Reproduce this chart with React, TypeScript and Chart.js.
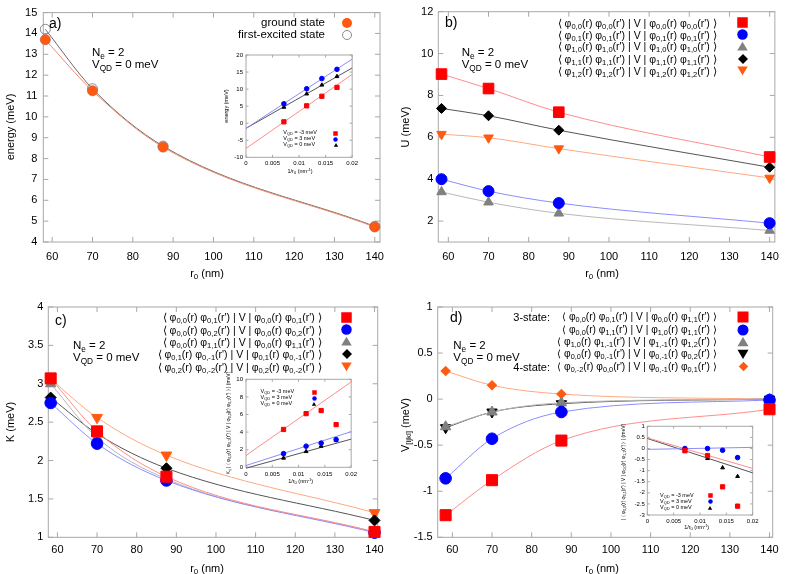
import React, { useEffect, useRef } from 'react';
import { Chart, registerables } from 'chart.js';
Chart.register(...registerables);

const FONT = '"Liberation Sans", Arial, Helvetica, sans-serif';

// ---------- data ----------
const R0 = [58.3, 70, 87.5, 140];
const INV_R0 = [0.00714, 0.01143, 0.01429, 0.01714];
const FIT_X = [0, 0.02];

const A_GROUND = [13.7, 11.25, 8.55, 4.72];
const A_EXCITED = [14.2, 11.35, 8.6, 4.75];
const A_INSET_M3 = [0.4, 5.1, 7.9, 10.5];
const A_INSET_P3 = [5.7, 10.1, 13.1, 15.8];
const A_INSET_0 = [4.7, 8.6, 11.2, 13.7];
const A_FIT_M3 = [-7.4, 14.3];
const A_FIT_P3 = [-1.5, 18.8];
const A_FIT_0 = [-1.5, 16.2];

const B_U00 = [9.02, 8.33, 7.2, 5.06];
const B_U01 = [4.0, 3.43, 2.86, 1.9];
const B_U10 = [3.39, 2.9, 2.37, 1.55];
const B_U11 = [7.38, 7.03, 6.34, 4.57];
const B_U12 = [6.15, 5.98, 5.46, 4.06];

const C_K1 = [3.07, 2.38, 1.79, 1.07];
const C_K2 = [2.75, 2.22, 1.74, 1.06];
const C_K3 = [3.0, 2.3, 1.76, 1.07];
const C_K4 = [2.82, 2.35, 1.9, 1.22];
const C_K5 = [3.06, 2.56, 2.07, 1.32];
const C_INSET_M3 = [4.3, 6.1, 6.45, 4.85];
const C_INSET_P3 = [1.55, 2.4, 2.75, 3.15];
const C_INSET_0 = [1.05, 1.8, 2.4, 3.05];
const C_FIT_M3 = [1.35, 9.7];
const C_FIT_P3 = [0.2, 4.05];
const C_FIT_0 = [-0.1, 3.2];

const D_V1 = [-1.26, -0.88, -0.45, -0.11];
const D_V2 = [-0.86, -0.43, -0.14, -0.01];
const D_V3 = [-0.3, -0.14, -0.04, 0.0];
const D_V4 = [-0.31, -0.14, -0.05, 0.0];
const D_V5 = [0.305, 0.15, 0.055, 0.0];
const D_INSET_M3 = [-0.1, -0.32, -1.73, -2.6];
const D_INSET_P3 = [0.0, 0.0, -0.08, -0.41];
const D_INSET_0 = [-0.12, -0.45, -0.87, -1.26];
const D_FIT_M3 = [0.48, -0.9];
const D_FIT_P3 = [-0.04, 0.05];
const D_FIT_0 = [0.45, -1.1];

const B_LEGEND = [
  ['0,0', '0,0', '0,0', '0,0'],
  ['0,1', '0,1', '0,1', '0,1'],
  ['1,0', '1,0', '1,0', '1,0'],
  ['1,1', '1,1', '1,1', '1,1'],
  ['1,2', '1,2', '1,2', '1,2'],
];
const C_LEGEND = [
  ['0,0', '0,1', '0,0', '0,1'],
  ['0,0', '0,2', '0,0', '0,2'],
  ['0,0', '1,1', '0,0', '1,1'],
  ['0,1', '0,-1', '0,1', '0,-1'],
  ['0,2', '0,-2', '0,2', '0,-2'],
];
const D_LEGEND = [
  ['0,0', '0,1', '0,0', '1,1'],
  ['0,0', '1,1', '1,0', '1,1'],
  ['1,0', '1,-1', '1,-1', '1,2'],
  ['0,0', '0,-1', '0,-1', '0,2'],
  ['0,-2', '0,0', '0,-1', '0,1'],
];
const D_PREFIX = ['3-state:', '', '', '', '4-state:'];
const VQD_LABELS = ['-3', '3', '0'];

// ---------- colours ----------
const RED = '#ff0000';
const BLUE = '#0000ff';
const GRAY = '#808080';
const BLACK = '#000000';
const ORANGE = '#ff5a10';
const L_RED = '#ff8c8c';
const L_BLUE = '#8c8cff';
const L_GRAY = '#b8b8b8';
const L_BLACK = '#555555';
const L_ORANGE = '#ffa880';

// ---------- plugin: frame + inward ticks ----------
const framePlugin = {
  id: 'frame',
  beforeDatasetsDraw(chart: any, _a: any, opts: any) {
    const { ctx, chartArea: ca, scales } = chart;
    ctx.save();
    if (opts.fill) {
      ctx.fillStyle = opts.fill;
      ctx.fillRect(ca.left, ca.top, ca.right - ca.left, ca.bottom - ca.top);
    }
    ctx.strokeStyle = opts.color || '#999';
    ctx.lineWidth = 1;
    ctx.strokeRect(ca.left, ca.top, ca.right - ca.left, ca.bottom - ca.top);
    const L = opts.len || 5;
    ctx.beginPath();
    for (const t of scales.x.ticks) {
      const p = scales.x.getPixelForValue(t.value);
      ctx.moveTo(p, ca.bottom);
      ctx.lineTo(p, ca.bottom - L);
      ctx.moveTo(p, ca.top);
      ctx.lineTo(p, ca.top + L);
    }
    for (const t of scales.y.ticks) {
      const p = scales.y.getPixelForValue(t.value);
      ctx.moveTo(ca.left, p);
      ctx.lineTo(ca.left + L, p);
      ctx.moveTo(ca.right, p);
      ctx.lineTo(ca.right - L, p);
    }
    ctx.stroke();
    ctx.restore();
  },
};

const fmt = (v: any) => String(Math.round(Number(v) * 1e6) / 1e6);

function series(xs: number[], ys: number[], o: any) {
  return {
    data: xs.map((x, i) => ({ x, y: ys[i] })),
    showLine: o.line !== false,
    borderColor: o.lineColor || 'transparent',
    borderWidth: o.lw || 1,
    pointStyle: o.shape || 'circle',
    pointRadius: o.r || 0,
    pointHoverRadius: o.r || 0,
    pointRotation: o.rot || 0,
    pointBackgroundColor: o.fill || 'transparent',
    pointBorderColor: o.stroke || o.fill || 'transparent',
    pointBorderWidth: o.bw ?? 1,
    cubicInterpolationMode: 'monotone',
    clip: false,
  };
}

function makeConfig(s: any) {
  return {
    type: 'line',
    data: { datasets: s.datasets },
    options: {
      responsive: false,
      animation: false,
      maintainAspectRatio: false,
      events: [],
      layout: { padding: { top: s.area.t, right: s.w - s.area.r, left: 0, bottom: 0 } },
      plugins: {
        legend: { display: false },
        tooltip: { enabled: false },
        frame: { color: s.frameColor || '#a8a8a8', len: s.tickLen, fill: s.fill },
      },
      scales: {
        x: {
          type: 'linear',
          min: s.x.min,
          max: s.x.max,
          grid: { display: false, drawTicks: false },
          border: { display: false },
          ticks: {
            stepSize: s.x.step,
            includeBounds: false,
            autoSkip: false,
            maxRotation: 0,
            color: '#000',
            padding: s.x.pad,
            font: { family: FONT, size: s.font },
            callback: fmt,
          },
          afterFit: (sc: any) => {
            sc.height = s.h - s.area.b;
          },
        },
        y: {
          type: 'linear',
          min: s.y.min,
          max: s.y.max,
          grid: { display: false, drawTicks: false },
          border: { display: false },
          ticks: {
            stepSize: s.y.step,
            includeBounds: false,
            autoSkip: false,
            color: '#000',
            padding: s.y.pad,
            font: { family: FONT, size: s.font },
            callback: fmt,
          },
          afterFit: (sc: any) => {
            sc.width = s.area.l;
          },
        },
      },
    },
    plugins: [framePlugin],
  };
}

// ---------- chart specs ----------
const SPECS: any[] = [
  {
    // a
    left: 0, top: 0, w: 395, h: 290,
    area: { l: 43.3, t: 11.7, r: 380, b: 242 },
    x: { min: 57.8, max: 141.3, step: 10, pad: 8 },
    y: { min: 4, max: 15, step: 1, pad: 6 },
    font: 11, tickLen: 5,
    datasets: [
      series(R0, A_GROUND, { lineColor: '#f08a68', shape: 'circle', r: 5, fill: ORANGE, stroke: '#c86040', bw: 0.8 }),
      series(R0, A_EXCITED, { lineColor: '#6a6a6a', shape: 'circle', r: 5, fill: 'rgba(255,255,255,0)', stroke: '#8a8a8a', bw: 1 }),
    ],
  },
  {
    // b
    left: 395, top: 0, w: 392, h: 290,
    area: { l: 43.3, t: 11.7, r: 380, b: 242 },
    x: { min: 57.5, max: 141.3, step: 10, pad: 8 },
    y: { min: 1, max: 12, step: 2, pad: 5 },
    font: 11, tickLen: 5,
    datasets: [
      series(R0, B_U00, { lineColor: L_RED, shape: 'rect', r: 7.5, fill: RED }),
      series(R0, B_U01, { lineColor: L_BLUE, shape: 'circle', r: 5.5, fill: BLUE }),
      series(R0, B_U10, { lineColor: L_GRAY, shape: 'triangle', r: 5.5, fill: GRAY }),
      series(R0, B_U11, { lineColor: L_BLACK, shape: 'rectRot', r: 5, fill: BLACK }),
      series(R0, B_U12, { lineColor: L_ORANGE, shape: 'triangle', rot: 180, r: 5.5, fill: ORANGE }),
    ],
  },
  {
    // c
    left: 0, top: 287, w: 395, h: 287,
    area: { l: 48.3, t: 20, r: 377.7, b: 250.3 },
    x: { min: 57.7, max: 140.8, step: 10, pad: 6 },
    y: { min: 1, max: 4, step: 0.5, pad: 5 },
    font: 11, tickLen: 5,
    datasets: [
      series(R0, C_K1, { lineColor: L_RED, shape: 'rect', r: 7.8, fill: RED }),
      series(R0, C_K2, { lineColor: L_BLUE, shape: 'circle', r: 5.8, fill: BLUE }),
      series(R0, C_K3, { lineColor: L_GRAY, shape: 'triangle', r: 6, fill: GRAY }),
      series(R0, C_K4, { lineColor: L_BLACK, shape: 'rectRot', r: 5.5, fill: BLACK }),
      series(R0, C_K5, { lineColor: L_ORANGE, shape: 'triangle', rot: 180, r: 6.2, fill: ORANGE }),
    ],
  },
  {
    // d
    left: 395, top: 287, w: 392, h: 287,
    area: { l: 42.7, t: 20, r: 377.7, b: 250.3 },
    x: { min: 56.3, max: 140.8, step: 10, pad: 6 },
    y: { min: -1.5, max: 1, step: 0.5, pad: 5 },
    font: 11, tickLen: 5,
    datasets: [
      series(R0, D_V1, { lineColor: L_RED, shape: 'rect', r: 7.8, fill: RED }),
      series(R0, D_V2, { lineColor: L_BLUE, shape: 'circle', r: 5.8, fill: BLUE }),
      series(R0, D_V3, { lineColor: L_GRAY, shape: 'triangle', r: 6, fill: GRAY }),
      series(R0, D_V4, { lineColor: L_BLACK, shape: 'triangle', rot: 180, r: 6, fill: BLACK }),
      series(R0, D_V5, { lineColor: L_ORANGE, shape: 'rectRot', r: 4.8, fill: ORANGE }),
    ],
  },
  {
    // inset a
    left: 215, top: 48, w: 145, h: 132,
    area: { l: 31, t: 7, r: 139.7, b: 109.3 },
    x: { min: 0, max: 0.02, step: 0.005, pad: 2 },
    y: { min: -10, max: 20, step: 5, pad: 3 },
    font: 6, tickLen: 2.5, fill: '#fff',
    datasets: [
      series(INV_R0, A_INSET_M3, { line: false, shape: 'rect', r: 3, fill: RED }),
      series(INV_R0, A_INSET_P3, { line: false, shape: 'circle', r: 2.3, fill: BLUE }),
      series(INV_R0, A_INSET_0, { line: false, shape: 'triangle', r: 2.2, fill: BLACK }),
      series(FIT_X, A_FIT_M3, { lineColor: L_RED }),
      series(FIT_X, A_FIT_P3, { lineColor: L_BLUE }),
      series(FIT_X, A_FIT_0, { lineColor: L_BLACK }),
    ],
  },
  {
    // inset c
    left: 215, top: 372, w: 145, h: 115,
    area: { l: 31, t: 7.3, r: 140.3, b: 95.3 },
    x: { min: 0, max: 0.02, step: 0.005, pad: 3 },
    y: { min: 0, max: 10, step: 2, pad: 3 },
    font: 6, tickLen: 2.5, fill: '#fff',
    datasets: [
      series(INV_R0, C_INSET_M3, { line: false, shape: 'rect', r: 3, fill: RED }),
      series(INV_R0, C_INSET_P3, { line: false, shape: 'circle', r: 2.3, fill: BLUE }),
      series(INV_R0, C_INSET_0, { line: false, shape: 'triangle', r: 2.2, fill: BLACK }),
      series(FIT_X, C_FIT_M3, { lineColor: L_RED }),
      series(FIT_X, C_FIT_P3, { lineColor: L_BLUE }),
      series(FIT_X, C_FIT_0, { lineColor: L_BLACK }),
    ],
  },
  {
    // inset d
    left: 616, top: 419, w: 145, h: 110,
    area: { l: 31.3, t: 7.3, r: 140.7, b: 96 },
    x: { min: 0, max: 0.02, step: 0.005, pad: 2.5 },
    y: { min: -3, max: 1, step: 0.5, pad: 2.5 },
    font: 6, tickLen: 2.5, fill: '#fff',
    datasets: [
      series(INV_R0, D_INSET_M3, { line: false, shape: 'rect', r: 3, fill: RED }),
      series(INV_R0, D_INSET_P3, { line: false, shape: 'circle', r: 2.3, fill: BLUE }),
      series(INV_R0, D_INSET_0, { line: false, shape: 'triangle', r: 2.2, fill: BLACK }),
      series(FIT_X, D_FIT_M3, { lineColor: L_RED }),
      series(FIT_X, D_FIT_P3, { lineColor: L_BLUE }),
      series(FIT_X, D_FIT_0, { lineColor: L_BLACK }),
    ],
  },
];

// ---------- HTML text helpers ----------
const subStyle: any = { fontSize: '0.72em', verticalAlign: '-0.3em', lineHeight: 0 };
const supStyle: any = { fontSize: '0.72em', verticalAlign: '0.45em', lineHeight: 0 };
const Sb = ({ t }: any) => <sub style={subStyle}>{t}</sub>;
const Sp = ({ t }: any) => <sup style={supStyle}>{t}</sup>;

function Txt({ x, y, size = 11, align = 'left', rot = false, children }: any) {
  let transform = 'translate(0,-50%)';
  if (align === 'right') transform = 'translate(-100%,-50%)';
  if (align === 'center') transform = 'translate(-50%,-50%)';
  if (rot) transform = 'translate(-50%,-50%) rotate(-90deg)';
  return (
    <div
      style={{
        position: 'absolute',
        left: x,
        top: y,
        transform,
        whiteSpace: 'nowrap',
        fontFamily: FONT,
        fontSize: size,
        lineHeight: 1,
        color: '#000',
      }}
    >
      {children}
    </div>
  );
}

function Mk({ x, y, shape, color, size, stroke }: any) {
  const s = size;
  const h = s / 2;
  let el: any = null;
  if (shape === 'square') el = <rect x={-h} y={-h} width={s} height={s} fill={color} />;
  else if (shape === 'circle') el = <circle r={h} fill={color} />;
  else if (shape === 'ocircle') el = <circle r={h - 0.5} fill="none" stroke={stroke} strokeWidth={1} />;
  else if (shape === 'tri') el = <polygon points={`0,${-h} ${h * 1.1},${h * 0.85} ${-h * 1.1},${h * 0.85}`} fill={color} />;
  else if (shape === 'itri') el = <polygon points={`0,${h} ${h * 1.1},${-h * 0.85} ${-h * 1.1},${-h * 0.85}`} fill={color} />;
  else if (shape === 'diamond') el = <polygon points={`0,${-h} ${h},0 0,${h} ${-h},0`} fill={color} />;
  return (
    <svg
      width={s * 2}
      height={s * 2}
      viewBox={`${-s} ${-s} ${2 * s} ${2 * s}`}
      style={{ position: 'absolute', left: x - s, top: y - s, overflow: 'visible' }}
    >
      {el}
    </svg>
  );
}

function Bra({ idx }: any) {
  return (
    <>
      ⟨ φ<Sb t={idx[0]} />(r) φ<Sb t={idx[1]} />(r') | V | φ<Sb t={idx[2]} />(r) φ<Sb t={idx[3]} />(r') ⟩
    </>
  );
}

const R0Title = () => (
  <>
    r<Sb t="0" /> (nm)
  </>
);
const InvTitle = () => (
  <>
    1/r<Sb t="0" /> (nm<Sp t="-1" />)
  </>
);

const SHAPES5_BC = [
  { shape: 'square', color: RED, size: 10.5 },
  { shape: 'circle', color: BLUE, size: 10.5 },
  { shape: 'tri', color: GRAY, size: 9.5 },
  { shape: 'diamond', color: BLACK, size: 10 },
  { shape: 'itri', color: ORANGE, size: 9.5 },
];
const SHAPES5_D = [
  { shape: 'square', color: RED, size: 11 },
  { shape: 'circle', color: BLUE, size: 11 },
  { shape: 'tri', color: GRAY, size: 10 },
  { shape: 'itri', color: BLACK, size: 10 },
  { shape: 'diamond', color: ORANGE, size: 9.5 },
];
const INSET_SHAPES = [
  { shape: 'square', color: RED, size: 4.5 },
  { shape: 'circle', color: BLUE, size: 4.5 },
  { shape: 'tri', color: BLACK, size: 4 },
];

function InsetLegend({ x, y, mx }: any) {
  return (
    <>
      {VQD_LABELS.map((v, i) => (
        <React.Fragment key={i}>
          <Txt x={x} y={y + i * 6} size={5.5}>
            V<Sb t="QD" /> = {v} meV
          </Txt>
          <Mk x={mx} y={y + i * 6} {...INSET_SHAPES[i]} />
        </React.Fragment>
      ))}
    </>
  );
}

const LEG_Y = [317.3, 329.5, 341.7, 354, 366.5];
const B_LEG_Y = [22.7, 34.5, 46.3, 58.5, 70.7];

export default function App() {
  const refs = useRef<(HTMLCanvasElement | null)[]>([]);
  useEffect(() => {
    const charts = SPECS.map((s, i) => new Chart(refs.current[i] as any, makeConfig(s) as any));
    return () => charts.forEach((c) => c.destroy());
  }, []);

  return (
    <div style={{ position: 'absolute', left: 0, top: 0, width: 787, height: 574, background: '#fff', overflow: 'hidden' }}>
      {SPECS.map((s, i) => (
        <canvas
          key={i}
          ref={(el) => {
            refs.current[i] = el;
          }}
          width={s.w}
          height={s.h}
          style={{ position: 'absolute', left: s.left, top: s.top, width: s.w, height: s.h }}
        />
      ))}

      {/* ---------- panel a ---------- */}
      <Txt x={49} y={23} size={14}>a)</Txt>
      <Txt x={92} y={53} size={11.5}>
        N<Sb t="e" /> = 2
      </Txt>
      <Txt x={92} y={65} size={11.5}>
        V<Sb t="QD" /> = 0 meV
      </Txt>
      <Txt x={325} y={23} size={11.5} align="right">ground state</Txt>
      <Txt x={325} y={34.5} size={11.5} align="right">first-excited state</Txt>
      <Mk x={347} y={23} shape="circle" color={ORANGE} size={10} />
      <Mk x={347} y={34.5} shape="ocircle" stroke="#888" size={10} />
      <Txt x={10} y={127} size={11} rot>energy (meV)</Txt>
      <Txt x={207} y={273} size={11} align="center">
        <R0Title />
      </Txt>
      {/* inset a */}
      <Txt x={227.3} y={106} size={5.5} rot>energy (meV)</Txt>
      <Txt x={300} y={171.5} size={5.5} align="center">
        <InvTitle />
      </Txt>
      <InsetLegend x={283.3} y={133.3} mx={335.7} />

      {/* ---------- panel b ---------- */}
      <Txt x={445} y={22} size={14}>b)</Txt>
      <Txt x={461.7} y={52.7} size={11.5}>
        N<Sb t="e" /> = 2
      </Txt>
      <Txt x={461.7} y={65} size={11.5}>
        V<Sb t="QD" /> = 0 meV
      </Txt>
      {B_LEGEND.map((idx, i) => (
        <React.Fragment key={i}>
          <Txt x={716.7} y={B_LEG_Y[i]} size={10.5} align="right">
            <Bra idx={idx} />
          </Txt>
          <Mk x={742.7} y={B_LEG_Y[i]} {...SHAPES5_BC[i]} />
        </React.Fragment>
      ))}
      <Txt x={405} y={127} size={11} rot>U (meV)</Txt>
      <Txt x={602} y={273} size={11} align="center">
        <R0Title />
      </Txt>

      {/* ---------- panel c ---------- */}
      <Txt x={55} y={320} size={14}>c)</Txt>
      <Txt x={73} y={346} size={11.5}>
        N<Sb t="e" /> = 2
      </Txt>
      <Txt x={73} y={358} size={11.5}>
        V<Sb t="QD" /> = 0 meV
      </Txt>
      {C_LEGEND.map((idx, i) => (
        <React.Fragment key={i}>
          <Txt x={321.7} y={LEG_Y[i]} size={10.5} align="right">
            <Bra idx={idx} />
          </Txt>
          <Mk x={346.7} y={LEG_Y[i]} {...SHAPES5_BC[i]} />
        </React.Fragment>
      ))}
      <Txt x={10} y={422} size={11} rot>K (meV)</Txt>
      <Txt x={207} y={568} size={11} align="center">
        <R0Title />
      </Txt>
      {/* inset c */}
      <Txt x={227.5} y={423} size={5} rot>
        K<Sb t="ij" /> | ⟨ φ<Sb t="0,0" />(r) φ<Sb t="0,1" />(r') | V | φ<Sb t="0,0" />(r) φ<Sb t="0,1" />(r') ⟩ | (meV)
      </Txt>
      <Txt x={300.7} y={481.7} size={5.5} align="center">
        <InvTitle />
      </Txt>
      <InsetLegend x={260.5} y={392.3} mx={314} />

      {/* ---------- panel d ---------- */}
      <Txt x={450} y={317} size={14}>d)</Txt>
      <Txt x={453.3} y={346} size={11.5}>
        N<Sb t="e" /> = 2
      </Txt>
      <Txt x={453.3} y={357.5} size={11.5}>
        V<Sb t="QD" /> = 0 meV
      </Txt>
      {D_LEGEND.map((idx, i) => (
        <React.Fragment key={i}>
          {D_PREFIX[i] ? (
            <Txt x={550} y={LEG_Y[i]} size={11} align="right">
              {D_PREFIX[i]}
            </Txt>
          ) : null}
          <Txt x={716.7} y={LEG_Y[i]} size={10.2} align="right">
            <Bra idx={idx} />
          </Txt>
          <Mk x={743.3} y={LEG_Y[i]} {...SHAPES5_D[i]} />
        </React.Fragment>
      ))}
      <Txt x={405} y={425} size={11} rot>
        V<Sb t="[ijkl]" /> (meV)
      </Txt>
      <Txt x={602} y={568} size={11} align="center">
        <R0Title />
      </Txt>
      {/* inset d */}
      <Txt x={622.7} y={471.7} size={5} rot>
        | ⟨ φ<Sb t="0,0" />(r) φ<Sb t="0,1" />(r') | V | φ<Sb t="0,0" />(r) φ<Sb t="1,1" />(r') ⟩ | (meV)
      </Txt>
      <Txt x={696.7} y={528.3} size={5.5} align="center">
        <InvTitle />
      </Txt>
      <InsetLegend x={660} y={495.7} mx={710} />
    </div>
  );
}
